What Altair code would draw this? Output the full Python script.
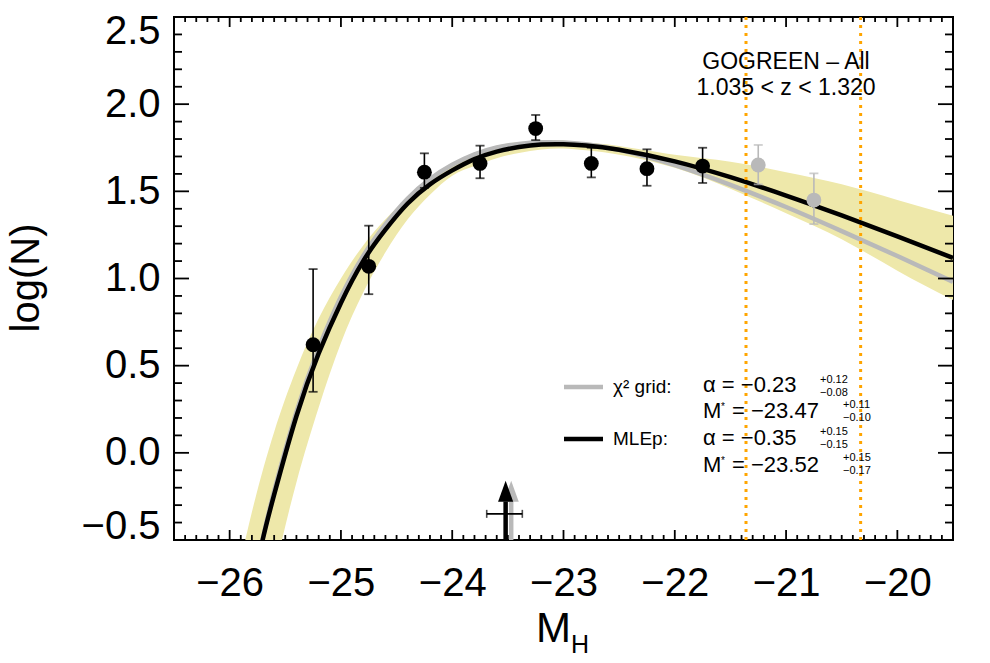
import altair as alt
import pandas as pd

FONT = "Liberation Sans"
W, H = 779, 523

# ---------------- data ----------------
# data points (black = used in fit, grey = beyond completeness)
pts_M = [-25.25, -24.75, -24.25, -23.75, -23.25, -22.75, -22.25, -21.75]
pts_y = [0.62, 1.07, 1.61, 1.66, 1.86, 1.66, 1.63, 1.645]
pts_lo = [0.35, 0.91, 1.52, 1.575, 1.794, 1.58, 1.532, 1.548]
pts_hi = [1.054, 1.303, 1.718, 1.762, 1.938, 1.75, 1.741, 1.75]

grey_M = [-21.25, -20.75]
grey_y = [1.651, 1.45]
grey_lo = [1.54, 1.312]
grey_hi = [1.766, 1.603]

# fitted curves
curve_M = [-25.8, -25.7, -25.6, -25.4, -25.2, -25.0, -24.8, -24.6, -24.4, -24.2, -24.0,
           -23.8, -23.6, -23.4, -23.2, -23.0, -22.8, -22.5, -22.0, -21.5, -21.0,
           -20.5, -20.0, -19.5]
mlep_y = [-0.78, -0.49, -0.24, 0.21, 0.57, 0.86, 1.10, 1.28, 1.43, 1.54, 1.62,
          1.685, 1.728, 1.754, 1.768, 1.770, 1.763, 1.739, 1.672, 1.581, 1.476,
          1.362, 1.242, 1.118]
chi2_y = [-0.78, -0.485, -0.22, 0.235, 0.60, 0.895, 1.13, 1.31, 1.458, 1.57, 1.652,
          1.712, 1.752, 1.772, 1.781, 1.780, 1.770, 1.738, 1.65, 1.537, 1.41,
          1.272, 1.129, 0.981]

# uncertainty band
band_M = [-26.0, -25.8, -25.6, -25.4, -25.2, -25.0, -24.8, -24.6, -24.4, -24.2, -24.0,
          -23.8, -23.6, -23.4, -23.2, -23.0, -22.8, -22.5, -22.0, -21.5, -21.0,
          -20.5, -20.0, -19.5]
band_hi = [-0.90, -0.34, 0.12, 0.48, 0.77, 1.00, 1.19, 1.34, 1.46, 1.56, 1.66,
           1.722, 1.762, 1.782, 1.79, 1.79, 1.78, 1.76, 1.71, 1.67, 1.61,
           1.54, 1.45, 1.36]
band_lo = [-1.90, -1.32, -0.70, -0.17, 0.26, 0.63, 0.92, 1.15, 1.34, 1.48, 1.59,
           1.645, 1.69, 1.72, 1.74, 1.745, 1.735, 1.71, 1.635, 1.515, 1.375,
           1.225, 1.045, 0.876]

# completeness limits (orange dotted)
limits_M = [-21.36, -20.33]

# M* arrows: chi2 grid and MLEp
mstar_chi2 = -23.47
mstar_mlep = -23.52
mstar_mlep_err = [-0.17, 0.15]

# axis ticks
x_major = [-26, -25, -24, -23, -22, -21, -20]
y_major = [-0.5, 0.0, 0.5, 1.0, 1.5, 2.0, 2.5]
x_minor = [round(-26.5 + 0.1 * k, 1) for k in range(71)]
x_minor = [v for v in x_minor if abs(v - round(v)) > 1e-6]
y_minor = [round(-0.5 + 0.1 * k, 1) for k in range(31)]
y_minor = [v for v in y_minor if abs(v * 2 - round(v * 2)) > 1e-6]

# ---------------- styling ----------------
BAND = "#EEE8AA"
GREY = "#B9B9B9"
ORANGE = "#FFA500"

xs = alt.Scale(domain=[-26.5, -19.5], nice=False, zero=False)
ys = alt.Scale(domain=[-0.5, 2.5], nice=False, zero=False)

x_axis = alt.Axis(values=x_major, format="d", labelFontSize=40, labelFont=FONT,
                  labelColor="black", ticks=False, tickSize=0, domain=False, grid=False,
                  labelPadding=55, labelBaseline="alphabetic", labelFlush=False, title=None)
y_axis = alt.Axis(values=y_major, format=".1f", labelFontSize=40, labelFont=FONT,
                  labelColor="black", ticks=False, tickSize=0, domain=False, grid=False,
                  labelPadding=14, labelFlush=True, labelFlushOffset=6, title=None)


def X(f):
    return alt.X(f, type="quantitative", scale=xs, axis=x_axis)


def Y(f):
    return alt.Y(f, type="quantitative", scale=ys, axis=y_axis)


one = alt.Data(values=[{"k": 0}])


def txt(s, x, y, size, align="left", angle=0, baseline="alphabetic", color="black"):
    return alt.Chart(one).mark_text(text=s, font=FONT, fontSize=size, align=align,
                                    baseline=baseline, angle=angle, color=color).encode(
        x=alt.value(x), y=alt.value(y))


curves = pd.DataFrame({"M": curve_M, "mlep": mlep_y, "chi2": chi2_y})
band = pd.DataFrame({"M": band_M, "hi": band_hi, "lo": band_lo})
pts = pd.DataFrame({"M": pts_M, "y": pts_y, "lo": pts_lo, "hi": pts_hi})
gpts = pd.DataFrame({"M": grey_M, "y": grey_y, "lo": grey_lo, "hi": grey_hi})
lims = pd.DataFrame({"M": limits_M})

layers = []

layers.append(alt.Chart(band).mark_area(color=BAND, interpolate="natural", clip=True).encode(
    x=X("M"), y=Y("lo"), y2=alt.Y2("hi")))
layers.append(alt.Chart(curves).mark_line(color=GREY, strokeWidth=4.5, interpolate="natural",
                                          clip=True).encode(x=X("M"), y=Y("chi2")))
layers.append(alt.Chart(curves).mark_line(color="black", strokeWidth=4.5, interpolate="natural",
                                          clip=True).encode(x=X("M"), y=Y("mlep")))
layers.append(alt.Chart(lims).mark_rule(color=ORANGE, strokeWidth=3, strokeDash=[3, 5]).encode(
    x=X("M")))

# arrows for M*
arrows = pd.DataFrame({"M": [mstar_chi2, mstar_mlep], "c": ["g", "k"],
                       "y0": [-0.5, -0.5], "yb": [-0.28, -0.28], "yh": [-0.22, -0.22]})
arrow_path = "M0,-1 L0.72,1 L-0.72,1 Z"
for c, col in [("g", GREY), ("k", "black")]:
    sub = arrows[arrows.c == c]
    layers.append(alt.Chart(sub).mark_rule(color=col, strokeWidth=4.5).encode(
        x=X("M"), y=Y("y0"), y2=alt.Y2("yb")))
    layers.append(alt.Chart(sub).mark_point(shape=arrow_path, size=441, filled=True,
                                            opacity=1, color=col).encode(x=X("M"), y=Y("yh")))
herr = pd.DataFrame({"a": [mstar_mlep + mstar_mlep_err[0]], "b": [mstar_mlep + mstar_mlep_err[1]],
                     "y": [-0.35]})
layers.append(alt.Chart(herr).mark_rule(color="black", strokeWidth=1.6).encode(
    x=X("a"), x2=alt.X2("b"), y=Y("y")))
for f in ["a", "b"]:
    layers.append(alt.Chart(herr).mark_tick(orient="vertical", size=8, thickness=1.6,
                                            color="black").encode(x=X(f), y=Y("y")))

# error bars and points
for df, col in [(pts, "black"), (gpts, GREY)]:
    layers.append(alt.Chart(df).mark_rule(color=col, strokeWidth=1.6).encode(
        x=X("M"), y=Y("lo"), y2=alt.Y2("hi")))
    for f in ["lo", "hi"]:
        layers.append(alt.Chart(df).mark_tick(orient="horizontal", size=9, thickness=1.8,
                                              color=col).encode(x=X("M"), y=Y(f)))
    layers.append(alt.Chart(df).mark_point(shape="circle", size=220, filled=True, opacity=1,
                                           color=col).encode(x=X("M"), y=Y("y")))

# inward ticks on all four sides
tk = dict(color="black", strokeWidth=1.8)
for vals, L in [(x_major, 10), (x_minor, 5)]:
    d = pd.DataFrame({"v": vals})
    layers.append(alt.Chart(d).mark_rule(**tk).encode(x=X("v"), y=alt.value(H), y2=alt.value(H - L)))
    layers.append(alt.Chart(d).mark_rule(**tk).encode(x=X("v"), y=alt.value(0), y2=alt.value(L)))
for vals, L in [(y_major, 15), (y_minor, 8)]:
    d = pd.DataFrame({"v": vals})
    layers.append(alt.Chart(d).mark_rule(**tk).encode(y=Y("v"), x=alt.value(0), x2=alt.value(L)))
    layers.append(alt.Chart(d).mark_rule(**tk).encode(y=Y("v"), x=alt.value(W), x2=alt.value(W - L)))

# legend inside the plot
layers.append(alt.Chart(one).mark_rule(color=GREY, strokeWidth=4.5).encode(
    x=alt.value(390), x2=alt.value(429), y=alt.value(370)))
layers.append(alt.Chart(one).mark_rule(color="black", strokeWidth=4.5).encode(
    x=alt.value(390), x2=alt.value(429), y=alt.value(422)))
layers += [
    txt("χ² grid:", 439, 376, 19),
    txt("α = −0.23", 529, 375, 22),
    txt("+0.12", 646, 366, 11),
    txt("−0.08", 646, 379, 11),
    txt("M", 529, 401, 22),
    txt("*", 547, 393, 10),
    txt("= −23.47", 558, 401, 22),
    txt("+0.11", 669, 391, 11),
    txt("−0.10", 669, 404, 11),
    txt("MLEp:", 439, 428, 19),
    txt("α = −0.35", 529, 428, 22),
    txt("+0.15", 646, 418, 11),
    txt("−0.15", 646, 431, 11),
    txt("M", 529, 455, 22),
    txt("*", 547, 447, 10),
    txt("= −23.52", 558, 455, 22),
    txt("+0.15", 669, 444, 11),
    txt("−0.17", 669, 457, 11),
    # annotation
    txt("GOGREEN – All", 612, 52, 23, align="center"),
    txt("1.035 < z < 1.320", 612, 78, 23, align="center"),
    # axis titles
    txt("M", 362, 625, 42),
    txt("H", 397, 636, 25),
    txt("log(N)", -135, 261, 40, align="center", angle=270),
]

chart = alt.layer(*layers).properties(
    width=W, height=H,
    padding={"left": 174, "top": 17, "right": 37, "bottom": 123},
    autosize=alt.AutoSizeParams(type="none"),
).configure_view(stroke="black", strokeWidth=2)

chart.save("out.html", embed_options={"renderer": "svg", "actions": False})
